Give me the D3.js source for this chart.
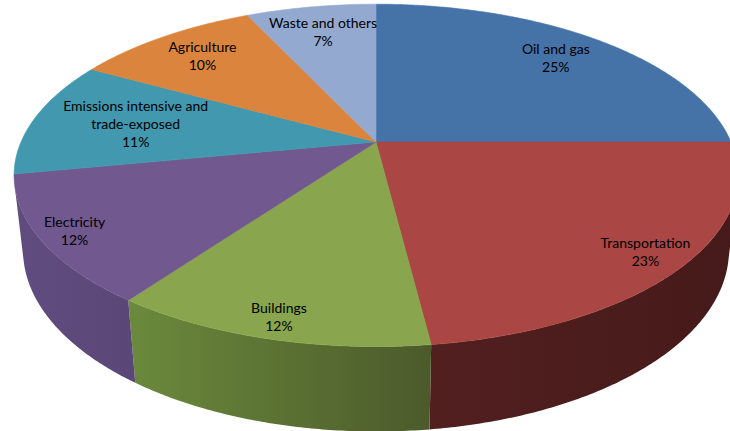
<!DOCTYPE html>
<html>
<head>
<meta charset="utf-8">
<script src="https://cdn.jsdelivr.net/npm/d3@7"></script>
<style>
  html, body { margin: 0; padding: 0; background: #fff; }
  svg { display: block; }
</style>
</head>
<body>
<svg id="chart" width="730" height="431"></svg>
<script>
// Emission shares by sector (percent of total)
const categories = ["Oil and gas", "Transportation", "Buildings", "Electricity",
                    "Emissions intensive and trade-exposed", "Agriculture", "Waste and others"];
const shares = [25, 23, 12, 12, 11, 10, 7];

// Slice colours: top face, and the left/right tones of the curved side wall
const topColors = ["#4572A7", "#AA4643", "#89A54E", "#71588F", "#4198AF", "#DB843D", "#93A9CF"];
const sideColors = [["#2f4c70", "#2a4465"], ["#521f1f", "#461a1a"], ["#6b8a3c", "#4c5a2b"],
                    ["#614c7f", "#5a4777"], ["#2c6677", "#285c6b"], ["#94592a", "#844f25"],
                    ["#63728c", "#5a687f"]];

const W = 730, H = 431;
const svg = d3.select("#chart");

// Perspective view of a tilted disc: radius 1, thickness T, camera elevated.
const CX = 376, CY = 142, SCALE = 355;
const K = 0.2201;              // radius / camera distance
const SIN = 0.4639, COS = Math.sqrt(1 - SIN * SIN);
const T = 0.24;                // disc thickness relative to radius

function project(theta, r, y) {
  const x = r * Math.sin(theta), z = -r * Math.cos(theta);
  const w = 1 - K * (z * COS + y * SIN);
  return [CX + SCALE * x / w, CY - SCALE * (y * COS - z * SIN) / w];
}
// radius on the top face under a screen point
function radiusAt(px, py) {
  const dx = px - CX, dy = py - CY;
  const w = 1 / (1 + K * COS * dy / (SCALE * SIN));
  return Math.hypot(dx * w / SCALE, dy * w / (SCALE * SIN));
}

const pie = d3.pie().sort(null).value(d => d).startAngle(0).endAngle(2 * Math.PI);
const arcs = pie(shares);
const line = d3.line();
const STEP = Math.PI / 360;

function arcPoints(a0, a1, r, y) {
  const n = Math.max(2, Math.ceil((a1 - a0) / STEP));
  return d3.range(n + 1).map(i => project(a0 + (a1 - a0) * i / n, r, y));
}

// side wall is seen where the outward normal faces the camera
const visFrom = Math.acos(-K / COS), visTo = 2 * Math.PI - visFrom;

const defs = svg.append("defs");
const sides = svg.append("g");
arcs.forEach((a, i) => {
  const a0 = Math.max(a.startAngle, visFrom), a1 = Math.min(a.endAngle, visTo);
  if (a0 >= a1) return;
  const g = defs.append("linearGradient").attr("id", "side" + i)
    .attr("x1", 0).attr("y1", 0).attr("x2", 1).attr("y2", 0);
  g.append("stop").attr("offset", 0).attr("stop-color", sideColors[i][0]);
  g.append("stop").attr("offset", 1).attr("stop-color", sideColors[i][1]);
  const pts = arcPoints(a0, a1, 1, 0).concat(arcPoints(a0, a1, 1, -T).reverse());
  sides.append("path").attr("d", line(pts) + "Z")
    .attr("fill", `url(#side${i})`);
});

const tops = svg.append("g");
arcs.forEach((a, i) => {
  const pts = [project(0, 0, 0)].concat(arcPoints(a.startAngle, a.endAngle, 1, 0));
  tops.append("path").attr("d", line(pts) + "Z")
    .attr("fill", topColors[i])
    .attr("stroke", topColors[i]).attr("stroke-width", 0.6).attr("stroke-linejoin", "round");
});

// Data labels: category (wrapped) and percentage, fitted inside each slice
const FONT = "Lato, 'Liberation Sans', sans-serif", FS = 14, LH = 18, WRAP = 150;
const fmt = d3.format(".0%");
const labels = svg.append("g").attr("font-family", FONT).attr("font-size", FS)
  .attr("fill", "#000").attr("text-anchor", "middle");
const meas = labels.append("text").attr("visibility", "hidden");
const width = s => { meas.text(s); return meas.node().getComputedTextLength(); };

function wrap(text) {
  const words = text.split(" "), out = [];
  let cur = "";
  words.forEach(w => {
    const t = cur ? cur + " " + w : w;
    if (cur && width(t) > WRAP) { out.push(cur); cur = w; } else cur = t;
  });
  out.push(cur);
  return out;
}

arcs.forEach((a, i) => {
  const lines = wrap(categories[i]).concat([fmt(shares[i] / 100)]);
  const ws = lines.map(width);
  const mid = (a.startAngle + a.endAngle) / 2;
  const n = lines.length;
  let pos = project(mid, 0.6, 0);
  for (let r = 0.95; r > 0.3; r -= 0.005) {
    const p = project(mid, r, 0);
    const ok = lines.every((l, j) => {
      const ly = p[1] + (j - (n - 1) / 2) * LH;
      return [[-1, -8], [1, -8], [-1, 5], [1, 5]].every(([sx, oy]) =>
        radiusAt(p[0] + sx * ws[j] / 2, ly + oy) <= 0.975);
    });
    if (ok) { pos = p; break; }
  }
  lines.forEach((l, j) => {
    labels.append("text")
      .attr("x", pos[0]).attr("y", pos[1] + (j - (n - 1) / 2) * LH)
      .attr("dy", "0.35em").text(l);
  });
});
meas.remove();
</script>
</body>
</html>
